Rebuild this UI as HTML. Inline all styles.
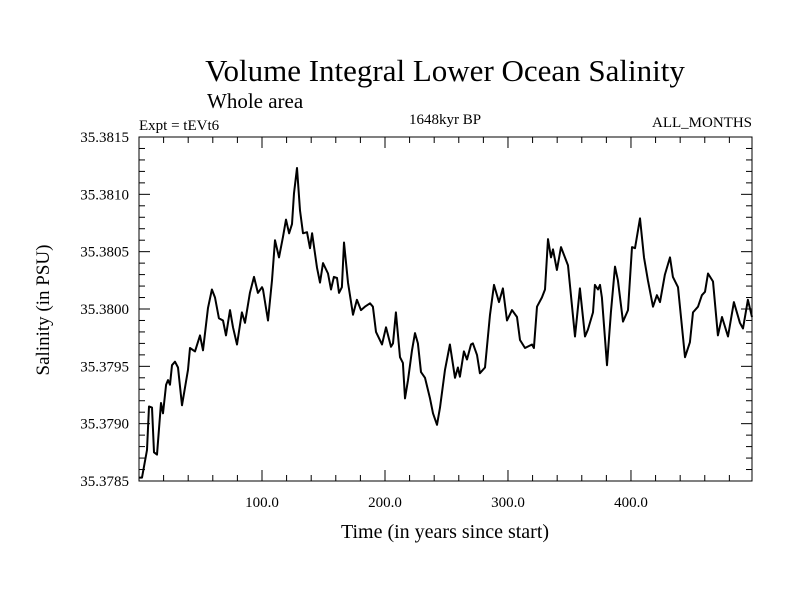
<!DOCTYPE html>
<html><head><meta charset="utf-8"><style>
body{margin:0;background:#fff}
svg{display:block;font-family:"Liberation Serif",serif}
</style></head><body>
<svg id="chart" width="800" height="600" xmlns="http://www.w3.org/2000/svg">
<rect width="800" height="600" fill="#fff"/>
<text x="445" y="81" font-size="31" text-anchor="middle">Volume Integral Lower Ocean Salinity</text>
<text x="207" y="108" font-size="21">Whole area</text>
<text x="139" y="130" font-size="15">Expt = tEVt6</text>
<text x="445" y="124" font-size="15" text-anchor="middle">1648kyr BP</text>
<text x="752" y="127" font-size="15" text-anchor="end">ALL_MONTHS</text>
<text transform="translate(49,310) rotate(-90)" font-size="19" text-anchor="middle">Salinity (in PSU)</text>
<text x="445" y="538" font-size="20" text-anchor="middle">Time (in years since start)</text>
<g id="axes"></g>
<path id="series" fill="none" stroke="#000" stroke-width="2" stroke-linejoin="round"/>
<rect x="139" y="137" width="613" height="344" fill="none" stroke="#000" stroke-width="1"/>
</svg>
<script>
const years=[0,2.4,6.5,8.1,10.6,12.2,14.6,17.9,19.5,22,23.6,25.2,26.8,29.3,31.7,35,39.8,41.5,45.5,49.6,52,56.1,59.3,61.8,65,68.3,70.7,74,76.4,79.7,83.7,86.2,90.2,93.5,96.7,100,100.8,104.9,108.1,110.6,113.8,117.1,119.5,122,124.4,126,128.5,130.9,133.3,136.6,139,140.7,144.7,147.2,149.6,153.7,156.1,158.5,161,162.6,165,166.7,169.9,174,177.2,180.5,183.7,187.8,190.2,192.7,197.6,200.8,204.9,206.5,208.9,212.2,214.6,216.3,218.7,222,224.4,226.8,229.3,232.5,236.6,239,242.3,244.7,248.8,252.8,256.9,259.3,260.9,264.2,266.7,269.9,271.5,274.8,277.2,281.3,285.4,288.6,292.7,295.9,299.2,303.3,307.3,309.8,313.8,319.5,321.1,323.6,327.6,330.1,332.5,335,336.6,339.8,343.1,348.8,354.5,358.5,362.6,365,369.1,370.7,373.2,374.8,376.4,380.5,383.7,387,389.4,393.5,397.6,400.8,403.3,407.3,410.6,413.8,417.9,421.1,423.6,427.6,431.7,434.1,438.2,443.9,447.9,450.4,454.5,457.7,460.2,462.6,466.7,470.7,474,478.9,483.7,488.6,491.1,495.1,498.4];
const salinity=[35.37853,35.37853,35.37877,35.37915,35.37914,35.37875,35.37873,35.37918,35.37909,35.37934,35.37938,35.37934,35.37951,35.37954,35.37949,35.37916,35.37947,35.37966,35.37963,35.37977,35.37964,35.38001,35.38017,35.38010,35.37992,35.37990,35.37977,35.37999,35.37984,35.37969,35.37997,35.37988,35.38014,35.38028,35.38014,35.38019,35.38017,35.37990,35.38025,35.38060,35.38045,35.38063,35.38078,35.38066,35.38074,35.38101,35.38123,35.38086,35.38066,35.38067,35.38053,35.38066,35.38036,35.38023,35.38040,35.38031,35.38017,35.38028,35.38027,35.38014,35.38019,35.38058,35.38023,35.37995,35.38008,35.37999,35.38002,35.38005,35.38002,35.37980,35.37969,35.37984,35.37967,35.37970,35.37997,35.37958,35.37953,35.37922,35.37938,35.37964,35.37979,35.37970,35.37945,35.37940,35.37922,35.37909,35.37899,35.37914,35.37947,35.37969,35.37940,35.37949,35.37941,35.37963,35.37956,35.37969,35.37970,35.37960,35.37944,35.37949,35.37995,35.38021,35.38006,35.38018,35.37990,35.37999,35.37993,35.37973,35.37966,35.37969,35.37966,35.38002,35.38010,35.38017,35.38061,35.38045,35.38052,35.38034,35.38054,35.38038,35.37976,35.38018,35.37976,35.37982,35.37997,35.38021,35.38017,35.38021,35.38010,35.37951,35.37997,35.38037,35.38025,35.37989,35.37999,35.38054,35.38053,35.38079,35.38045,35.38025,35.38002,35.38012,35.38006,35.38030,35.38045,35.38028,35.38019,35.37958,35.37971,35.37997,35.38002,35.38012,35.38015,35.38031,35.38024,35.37977,35.37993,35.37976,35.38006,35.37988,35.37983,35.38008,35.37993];
const yTickLabels=["35.3785","35.3790","35.3795","35.3800","35.3805","35.3810","35.3815"];
const xTickLabels=["100.0","200.0","300.0","400.0"];
const X0=139,X1=752,Y0=481,Y1=137,XMIN=0,XMAX=498.4,YMIN=35.3785,YMAX=35.3815;
const xs=v=>X0+(v-XMIN)/(XMAX-XMIN)*(X1-X0);
const ys=v=>Y0-(v-YMIN)/(YMAX-YMIN)*(Y0-Y1);
const NS="http://www.w3.org/2000/svg";
const axes=document.getElementById('axes');
function ln(x1,y1,x2,y2,name){const l=document.createElementNS(NS,'line');l.setAttribute('x1',x1);l.setAttribute('y1',y1);l.setAttribute('x2',x2);l.setAttribute('y2',y2);l.setAttribute('stroke','#000');l.setAttribute('stroke-width','1');


axes.appendChild(l);}
function tx(x,y,s,anchor,name){const t=document.createElementNS(NS,'text');t.setAttribute('x',x);t.setAttribute('y',y);t.setAttribute('font-size','15');t.setAttribute('text-anchor',anchor);t.textContent=s;


axes.appendChild(t);}
for(let i=0;i<=30;i++){const v=YMIN+i*0.0001,y=ys(v),len=(i%5==0)?11:6;
ln(X0,y,X0+len,y,'y-tick');ln(X1-len,y,X1,y,'y-tick-right');}
yTickLabels.forEach(s=>tx(129,ys(parseFloat(s))+5,s,'end','y-tick-label'));
for(let v=20;v<XMAX;v+=20){const x=xs(v),len=(v%100==0)?11:6;
ln(x,Y0,x,Y0-len,'x-tick');ln(x,Y1,x,Y1+len,'x-tick-top');}
xTickLabels.forEach(s=>tx(xs(parseFloat(s)),507,s,'middle','x-tick-label'));
let d='';years.forEach((yr,i)=>{d+=(i?'L':'M')+xs(yr).toFixed(1)+','+ys(salinity[i]).toFixed(1);});
document.getElementById('series').setAttribute('d',d);
</script>
</body></html>
